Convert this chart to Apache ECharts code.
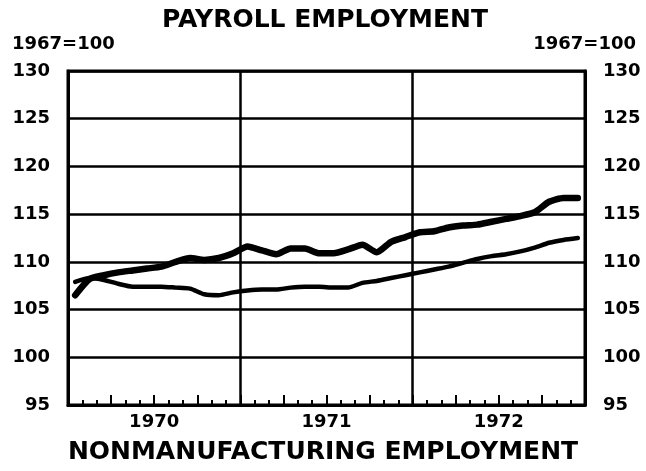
<!DOCTYPE html>
<html>
<head>
<meta charset="utf-8">
<script src="https://cdn.jsdelivr.net/npm/echarts@6/dist/echarts.min.js"></script>
<style>
html,body{margin:0;padding:0;background:#fff;}
#c{width:646px;height:471px;}
</style>
</head>
<body>
<div id="c"></div>
<script>
// Months Jan 1970 .. Dec 1972
var months = [];
var years = ['1970', '1971', '1972'];
var monthNames = ['Jan','Feb','Mar','Apr','May','Jun','Jul','Aug','Sep','Oct','Nov','Dec'];
years.forEach(function (y) { monthNames.forEach(function (m) { months.push(m + ' ' + y); }); });

var yTicks = [95, 100, 105, 110, 115, 120, 125, 130];

// Upper (heavier) line, index 1967=100
var seriesA = [106.5, 108.2, 108.6, 108.9, 109.1, 109.3, 109.5, 110.0, 110.4, 110.2, 110.4, 110.9,
               111.6, 111.2, 110.8, 111.4, 111.4, 110.9, 110.9, 111.3, 111.8, 111.0, 112.1, 112.6,
               113.1, 113.2, 113.6, 113.8, 113.9, 114.2, 114.5, 114.8, 115.2, 116.3, 116.7, 116.7];
// Lower (lighter) line
var seriesB = [107.9, 108.3, 108.1, 107.7, 107.4, 107.4, 107.4, 107.3, 107.2, 106.6, 106.5, 106.8,
               107.0, 107.1, 107.1, 107.3, 107.4, 107.4, 107.3, 107.3, 107.8, 108.0, 108.3, 108.6,
               108.9, 109.2, 109.5, 109.9, 110.3, 110.6, 110.8, 111.1, 111.5, 112.0, 112.3, 112.5];

var titleTop = 'PAYROLL EMPLOYMENT';
var titleBottom = 'NONMANUFACTURING EMPLOYMENT';
var baseLabel = '1967=100';

var FONT = "'DejaVu Sans', sans-serif";

var chart = echarts.init(document.getElementById('c'), null, { renderer: 'canvas' });
chart.setOption({
  animation: false,
  backgroundColor: '#fff',
  grid: { left: 68, right: 61, top: 71, bottom: 66, show: true, borderColor: '#000', borderWidth: 3, containLabel: false },
  graphic: [
    { type: 'text', x: 325, y: 20, style: { text: titleTop, font: 'bold 25px ' + FONT, fill: '#000', align: 'center', verticalAlign: 'middle' } },
    { type: 'text', x: 12, y: 44, style: { text: baseLabel, font: 'bold 18px ' + FONT, fill: '#000', align: 'left', verticalAlign: 'middle' } },
    { type: 'text', x: 636, y: 44, style: { text: baseLabel, font: 'bold 18px ' + FONT, fill: '#000', align: 'right', verticalAlign: 'middle' } },
    { type: 'text', x: 323, y: 452, style: { text: titleBottom, font: 'bold 25px ' + FONT, fill: '#000', align: 'center', verticalAlign: 'middle' } }
  ],
  xAxis: [
    {
      type: 'category', data: months, position: 'top', boundaryGap: true,
      axisLine: { show: false }, axisTick: { show: false }, axisLabel: { show: false },
      splitLine: { show: true, interval: function (idx) { return idx === 12 || idx === 24; }, lineStyle: { color: '#000', width: 2.5 } }
    },
    {
      type: 'value', min: 0, max: 36, interval: 3, position: 'bottom',
      axisLine: { show: true, onZero: false, lineStyle: { color: '#000', width: 3 } },
      axisTick: { show: true, inside: true, length: 10, lineStyle: { color: '#000', width: 2 } },
      minorTick: { show: true, splitNumber: 3, length: 5, lineStyle: { color: '#000', width: 2 } },
      splitLine: { show: false },
      axisLabel: {
        show: true, margin: 8, color: '#000', fontFamily: FONT, fontWeight: 'bold', fontSize: 18,
        formatter: function (v) { return v === 6 ? years[0] : v === 18 ? years[1] : v === 30 ? years[2] : ''; }
      }
    }
  ],
  yAxis: [
    {
      type: 'value', min: yTicks[0], max: yTicks[yTicks.length - 1], interval: 5, position: 'left',
      axisLine: { show: true, lineStyle: { color: '#000', width: 3 } },
      axisTick: { show: false },
      splitLine: { show: true, lineStyle: { color: '#000', width: 2.5 } },
      axisLabel: { margin: 18, color: '#000', fontFamily: FONT, fontWeight: 'bold', fontSize: 18 }
    },
    {
      type: 'value', min: yTicks[0], max: yTicks[yTicks.length - 1], interval: 5, position: 'right',
      axisLine: { show: true, lineStyle: { color: '#000', width: 3 } },
      axisTick: { show: false },
      splitLine: { show: false },
      axisLabel: { margin: 18, color: '#000', fontFamily: FONT, fontWeight: 'bold', fontSize: 18 }
    }
  ],
  series: [
    {
      type: 'line', xAxisIndex: 0, yAxisIndex: 0, data: seriesA, showSymbol: false, smooth: 0.2,
      lineStyle: { color: '#000', width: 6.5, cap: 'round', join: 'round' }
    },
    {
      type: 'line', xAxisIndex: 0, yAxisIndex: 0, data: seriesB, showSymbol: false, smooth: 0.2,
      lineStyle: { color: '#000', width: 4.5, cap: 'round', join: 'round' }
    }
  ]
});
</script>
</body>
</html>
